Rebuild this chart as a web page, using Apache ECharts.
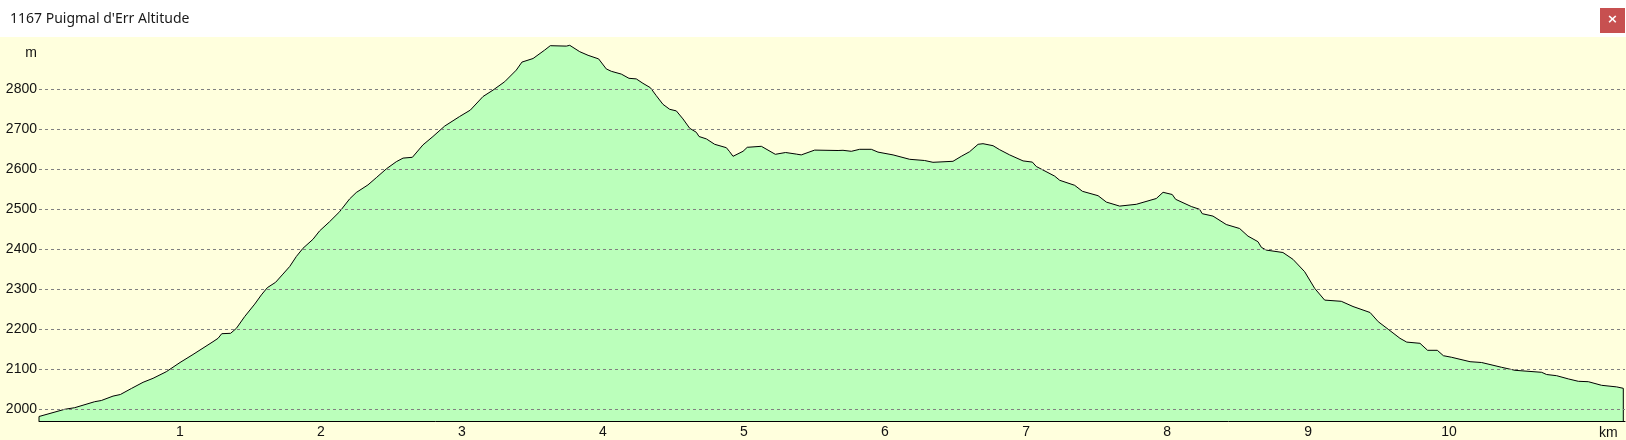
<!DOCTYPE html>
<html><head><meta charset="utf-8">
<style>html,body{margin:0;padding:0;background:#fff}#c{width:1626px;height:440px}</style>
<script src="https://cdn.jsdelivr.net/npm/echarts@6/dist/echarts.min.js"></script>
</head><body><div id="c"></div>
<script>
const titleText = "1167 Puigmal d'Err Altitude";
const kmTicks = [1,2,3,4,5,6,7,8,9,10];
const altTicks = [2000,2100,2200,2300,2400,2500,2600,2700,2800];
const axisBase = 1970.75;
const axisTop = 2930.75;
const axisEnd = 11.248;
const km = [0,0,.182,.253,.395,.442,.525,.577,.655,.738,.809,.903,1,1.092,1.234,1.27,1.296,1.359,1.4,1.459,1.53,1.577,1.619,1.678,1.73,1.778,1.825,1.872,1.943,1.99,2.061,2.132,2.203,2.25,2.333,2.392,2.463,2.534,2.582,2.648,2.723,2.794,2.877,2.983,3.059,3.149,3.22,3.303,3.385,3.425,3.504,3.586,3.626,3.74,3.764,3.835,3.894,3.969,4.023,4.059,4.13,4.184,4.236,4.283,4.336,4.378,4.425,4.473,4.52,4.567,4.615,4.662,4.681,4.733,4.792,4.875,4.898,4.922,4.993,5.023,5.123,5.222,5.295,5.371,5.406,5.501,5.667,5.702,5.761,5.82,5.903,5.95,6.057,6.175,6.281,6.34,6.482,6.541,6.6,6.66,6.695,6.766,6.813,6.884,6.979,7.045,7.073,7.203,7.239,7.345,7.4,7.511,7.57,7.664,7.782,7.924,7.972,8.037,8.061,8.172,8.231,8.25,8.326,8.42,8.515,8.574,8.645,8.669,8.704,8.822,8.893,8.976,9.047,9.118,9.236,9.319,9.44,9.498,9.569,9.652,9.7,9.794,9.848,9.917,9.96,10.019,10.149,10.231,10.373,10.468,10.657,10.692,10.763,10.846,10.917,10.988,11.082,11.189,11.236,11.236];
const alt = [1970.75,1982,2000,2004,2019,2022,2033,2037,2052,2067.5,2077.5,2094,2117,2137,2169,2177.5,2189,2190,2202.5,2232,2263,2286,2304,2317.5,2338,2357,2382,2402.5,2425,2446,2469,2494,2526,2542,2561,2579,2601,2619,2628,2630,2661,2682,2708,2732,2748,2782,2798,2819,2848,2868,2877,2898,2909,2908,2910,2894,2885,2876,2851,2845,2838,2827.5,2826,2815,2804,2784,2762.5,2750,2746,2726,2702.5,2692.5,2682,2676,2662.5,2654,2644,2632.5,2645,2655,2657.5,2637.5,2642,2638,2636,2648,2647,2647.5,2645,2650,2650,2643,2636,2625,2622,2617.5,2620,2632.5,2644,2662.5,2664,2659,2649,2636,2621,2618,2607,2583,2572.5,2560,2545,2534,2518,2508,2512.5,2527,2542.5,2537,2525,2507,2500,2489,2483,2462,2452,2433,2419,2405,2398,2392,2375,2344,2302.5,2273,2270,2257,2242,2219,2200,2177.5,2168,2165,2147.5,2147.5,2134,2130,2119,2117,2105,2097.5,2092.5,2087,2084,2076,2070,2069,2060,2056,2052.5,1970.75];
const points = km.map((k,i)=>[k,alt[i]]);
const labelFont = {color:'#111',fontFamily:'Liberation Sans, Arial, sans-serif',fontSize:14};
const chart = echarts.init(document.getElementById('c'),null,{renderer:'canvas',width:1626,height:440});
chart.setOption({
  animation:false,
  backgroundColor:'#ffffff',
  title:{text:titleText,left:10,top:12,padding:0,textStyle:{color:'#1a1a1a',fontFamily:'Noto Sans, sans-serif',fontSize:14,fontWeight:'normal'}},
  graphic:[
    {type:'rect',z:-10,silent:true,shape:{x:0,y:37,width:1626,height:403},style:{fill:'#FFFFDD'}},
    {type:'rect',z:10,silent:true,shape:{x:1600,y:8,width:25,height:25},style:{fill:'#C75050'}},
    {type:'text',z:11,silent:true,style:{x:1612.5,y:20,text:'×',fill:'#fff',font:'bold 13px "DejaVu Sans"',textAlign:'center',textVerticalAlign:'middle'}}
  ],
  grid:{left:39,right:1,top:37,bottom:19,containLabel:false,outerBoundsMode:'none'},
  xAxis:{type:'value',min:0,max:axisEnd,splitLine:{show:false},
    name:'km',nameLocation:'end',nameGap:-26,nameTextStyle:{...labelFont,verticalAlign:'top',padding:[5,0,0,0]},
    axisLine:{show:true,onZero:false,lineStyle:{color:'#000',width:1}},
    axisTick:{show:true,inside:true,length:3,customValues:kmTicks,lineStyle:{color:'#0000ff',width:1}},
    axisLabel:{...labelFont,customValues:kmTicks,margin:4,formatter:v=>String(v)}},
  yAxis:{type:'value',min:axisBase,max:axisTop,splitLine:{show:false},
    name:'m',nameLocation:'end',nameGap:-23,nameRotate:0,nameTextStyle:{...labelFont,align:'right',padding:[0,2,0,0]},
    axisLine:{show:false},axisTick:{show:false},
    axisLabel:{...labelFont,customValues:altTicks,margin:2,padding:[2,0,0,0],formatter:v=>String(v)}},
  series:[{type:'line',data:points,showSymbol:false,symbol:'none',smooth:false,clip:true,
    lineStyle:{color:'#000',width:1},
    areaStyle:{color:'#BBFFBB',opacity:1,origin:'start'},
    markLine:{silent:true,symbol:'none',animation:false,label:{show:false},
      lineStyle:{color:'#808080',type:[3,3],width:1},
      data:altTicks.map(v=>({yAxis:v}))}
  }]
});
</script></body></html>
